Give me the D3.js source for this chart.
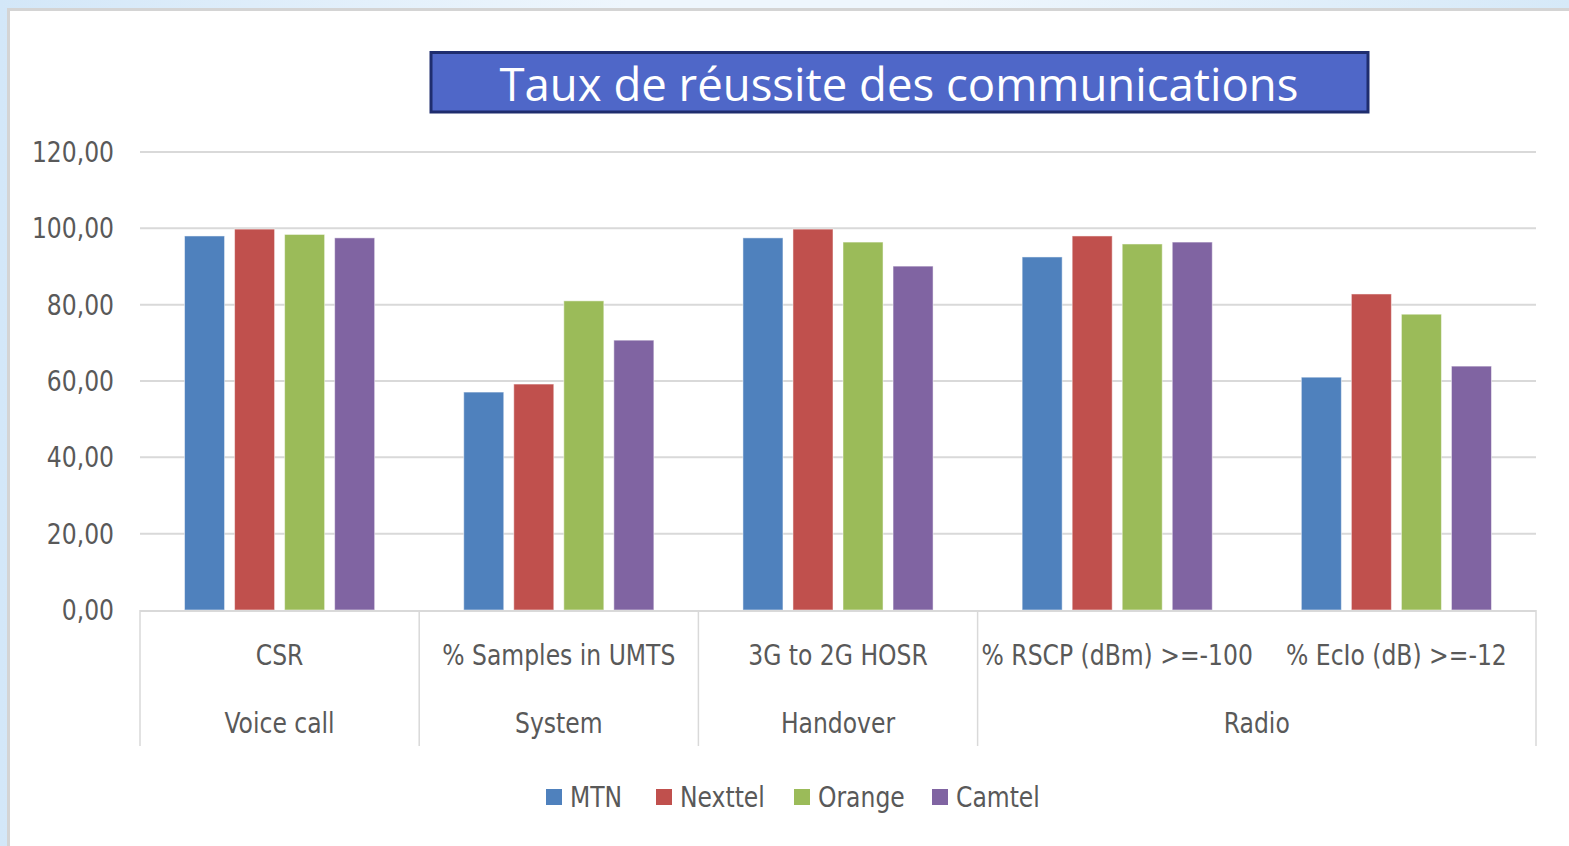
<!DOCTYPE html>
<html>
<head>
<meta charset="utf-8">
<script src="https://cdn.jsdelivr.net/npm/d3@7"></script>
<style>
  html, body { margin: 0; padding: 0; }
  body { width: 1569px; height: 846px; overflow: hidden;
    background: linear-gradient(90deg, #d3e7f8 0%, #eef6fd 40%, #eef6fd 60%, #d6e9f8 100%); }
  #chart { position: absolute; left: 0; top: 0; }
  text { font-family: "DejaVu Sans Condensed", Lato, sans-serif; }
</style>
</head>
<body>
<div id="chart"></div>
<script>
// Data
const categories = ["CSR", "% Samples in UMTS", "3G to 2G HOSR", "% RSCP (dBm) >=-100", "% EcIo (dB) >=-12"];
const groupNames = ["Voice call", "System", "Handover", "Radio"];
const groupOfCategory = ["Voice call", "System", "Handover", "Radio", "Radio"];
const series = ["MTN", "Nexttel", "Orange", "Camtel"];
const mtn = [98.0, 57.1, 97.5, 92.5, 61.0];
const nexttel = [99.8, 59.2, 99.8, 98.0, 82.8];
const orange = [98.4, 81.0, 96.4, 95.9, 77.5];
const camtel = [97.5, 70.7, 90.1, 96.4, 63.9];
const yTicks = [0, 20, 40, 60, 80, 100, 120];
const colors = ["#4f81bd", "#c0504d", "#9bbb59", "#8064a2"];
const title = "Taux de réussite des communications";

const values = [mtn, nexttel, orange, camtel];

const w = 1569, h = 846;
const plotLeft = 140, plotRight = 1536, plotTop = 152, plotBottom = 610;
const squeeze = 0.9; // narrow the label font horizontally

const svg = d3.select("#chart").append("svg")
  .attr("width", w).attr("height", h);

// white panel
svg.append("rect")
  .attr("x", 8.5).attr("y", 9.5).attr("width", w).attr("height", h)
  .attr("fill", "#fff").attr("stroke", "#d4d4d4").attr("stroke-width", 3);

// Scales
const x = d3.scaleBand().domain(categories).range([plotLeft, plotRight]).padding(0);
const xInner = d3.scaleBand().domain(series).range([0, x.bandwidth()])
  .paddingInner(0.2).paddingOuter(0.89);
const y = d3.scaleLinear().domain([0, 120]).range([plotBottom, plotTop]);

const place = (px, py) => `translate(${px},${py}) scale(${squeeze},1)`;

// Grid lines
svg.append("g").selectAll("line")
  .data(yTicks.filter(d => d > 0))
  .enter().append("line")
  .attr("x1", plotLeft).attr("x2", plotRight)
  .attr("y1", d => y(d)).attr("y2", d => y(d))
  .attr("stroke", "#d9d9d9").attr("stroke-width", 2);

// Y axis labels
const fmt = d => d3.format(".2f")(d).replace(".", ",");
svg.append("g").selectAll("text")
  .data(yTicks)
  .enter().append("text")
  .attr("transform", d => place(114, y(d) + 10))
  .attr("text-anchor", "end")
  .attr("fill", "#595959")
  .style("font-size", "29px")
  .text(fmt);

// Bars
const groups = svg.append("g").selectAll("g")
  .data(categories)
  .enter().append("g")
  .attr("transform", d => `translate(${x(d)},0)`);

groups.selectAll("rect")
  .data((c, i) => series.map((s, j) => ({ s, v: values[j][i], color: colors[j] })))
  .enter().append("rect")
  .attr("x", d => xInner(d.s))
  .attr("width", xInner.bandwidth())
  .attr("y", d => y(d.v))
  .attr("height", d => y(0) - y(d.v))
  .attr("fill", d => d.color)
  .attr("stroke", "#ffffff").attr("stroke-opacity", 0.5).attr("stroke-width", 1);

// Category axis line
svg.append("line")
  .attr("x1", plotLeft).attr("x2", plotRight)
  .attr("y1", plotBottom + 1).attr("y2", plotBottom + 1)
  .attr("stroke", "#d9d9d9").attr("stroke-width", 2);

// Group separators
const sepX = [plotLeft];
groupNames.forEach(g => {
  const last = categories.filter((c, i) => groupOfCategory[i] === g).pop();
  sepX.push(x(last) + x.bandwidth());
});
svg.append("g").selectAll("line")
  .data(sepX)
  .enter().append("line")
  .attr("x1", d => d).attr("x2", d => d)
  .attr("y1", plotBottom).attr("y2", 746)
  .attr("stroke", "#d9d9d9").attr("stroke-width", 1.5);

// Category labels
svg.append("g").selectAll("text")
  .data(categories)
  .enter().append("text")
  .attr("transform", d => place(x(d) + x.bandwidth() / 2, 665))
  .attr("text-anchor", "middle")
  .attr("fill", "#595959")
  .style("font-size", "29px")
  .text(d => d);

// Group labels
svg.append("g").selectAll("text")
  .data(groupNames)
  .enter().append("text")
  .attr("transform", g => {
    const cs = categories.filter((c, i) => groupOfCategory[i] === g);
    return place((x(cs[0]) + x(cs[cs.length - 1]) + x.bandwidth()) / 2, 733);
  })
  .attr("text-anchor", "middle")
  .attr("fill", "#595959")
  .style("font-size", "29px")
  .text(d => d);

// Title box
svg.append("rect")
  .attr("x", 431).attr("y", 52.5).attr("width", 937).attr("height", 59.5)
  .attr("fill", "#4f67c8").attr("stroke", "#1f2d6e").attr("stroke-width", 3);
svg.append("text")
  .attr("x", 899).attr("y", 101)
  .attr("text-anchor", "middle")
  .attr("fill", "#fff")
  .style("font-family", "'Open Sans', sans-serif")
  .style("font-size", "45.5px")
  .text(title);

// Legend
const legendX = [546, 656, 794, 932];
const legend = svg.append("g").selectAll("g")
  .data(series)
  .enter().append("g")
  .attr("transform", (d, i) => `translate(${legendX[i]},789)`);
legend.append("rect")
  .attr("width", 16).attr("height", 16)
  .attr("fill", (d, i) => colors[i]);
legend.append("text")
  .attr("transform", place(24, 18))
  .attr("fill", "#595959")
  .style("font-size", "29px")
  .text(d => d);
</script>
</body>
</html>
